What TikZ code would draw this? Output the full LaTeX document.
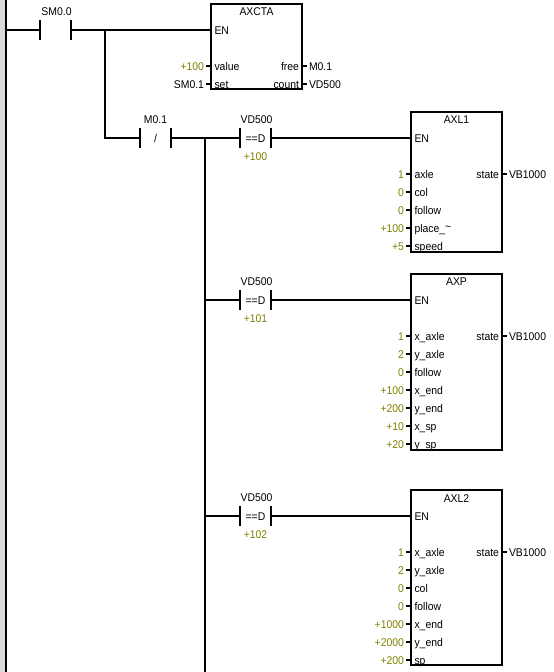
\documentclass[tikz,border=0pt]{standalone}
\usepackage{fontspec}
\setmainfont[FakeStretch=0.93]{Liberation Sans}
\usepackage{xcolor}
\usetikzlibrary{positioning}
\definecolor{valolive}{RGB}{128,128,0}

\begin{document}
\begin{tikzpicture}[x=1pt, y=-1pt,
    every node/.style={font=\fontsize{11.2}{13}\selectfont},
    wire/.style={line width=2pt, black},
    stub/.style={line width=2pt, black},
    contact/.style={minimum width=31pt, minimum height=20pt, inner sep=0pt, outer sep=0pt,
                    text height=10pt, text depth=2pt},
    bar/.style={line width=2pt, black},
    block/.style={rectangle, draw, line width=2pt, minimum width=91pt, inner sep=0pt, outer sep=0pt},
    pinname/.style={anchor=west, inner xsep=3.5pt, inner ysep=0pt, outer sep=0pt,
                    text height=10pt, text depth=2pt},
    outname/.style={anchor=east, inner xsep=3pt, inner ysep=0pt, outer sep=0pt,
                    text height=10pt, text depth=2pt},
    pinval/.style={inner xsep=2pt, inner ysep=0pt, outer sep=0pt, text=valolive,
                   text height=10pt, text depth=2pt},
    outval/.style={inner xsep=2pt, inner ysep=0pt, outer sep=0pt,
                   text height=10pt, text depth=2pt},
    addr/.style={inner sep=0pt}]

    \useasboundingbox (0,0) rectangle (554,672);

    % power rail
    \fill[gray!30] (0,0) rectangle (5,672);
    \coordinate (railtop) at (6,0);
    \coordinate (railbot) at (6,672);
    \draw[wire] (railtop) -- (railbot);

    % first rung
    \coordinate (r1) at (6,30);
    \node[contact] (sm00) at (55.5,30) {};
    \node[addr, above=4pt of sm00, xshift=1pt] (sm00a) {SM0.0};
    \draw[bar] (sm00.north west) -- (sm00.south west);
    \draw[bar] (sm00.north east) -- (sm00.south east);

    \node[block, minimum height=85pt] (axcta) at (256.5,46.5) {};
    \node[addr, below=3.5pt of axcta.north] (axctat) {AXCTA};
    \node[pinname] (axctaen) at (211,30) {EN};
    \coordinate (j1) at (105,30);
    \draw[wire] (r1) -- (sm00.west);
    \draw[wire] (sm00.east) -- (axctaen.west);

    \node[pinname] (p01) at (211,66) {value};
    \node[pinval, left=5pt of p01.west] (v01) {+100};
    \draw[stub] (v01.east) -- (p01.west);
    \node[pinname] (p02) at (211,84) {set};
    \node[outval, left=5pt of p02.west] (v02) {SM0.1};
    \draw[stub] (v02.east) -- (p02.west);
    \node[outname] (o01) at (302,66) {free};
    \node[outval, right=5pt of o01.east] (w01) {M0.1};
    \draw[stub] (o01.east) -- (w01.west);
    \node[outname] (o02) at (302,84) {count};
    \node[outval, right=5pt of o02.east] (w02) {VD500};
    \draw[stub] (o02.east) -- (w02.west);

    % second rung, M0.1 and the first compare
    \node[contact] (m01) at (155.5,138) {/};
    \node[addr, above=4pt of m01] (m01a) {M0.1};
    \draw[bar] (m01.north west) -- (m01.south west);
    \draw[bar] (m01.north east) -- (m01.south east);
    \draw[wire] (j1) |- (m01.west);

    \coordinate (j2) at (205,138);
    \coordinate (j2bot) at (205,672);
    \draw[wire] (j2) -- (j2bot);

    \node[contact] (cmp1) at (255.5,138) {==D};
    \node[addr, above=4pt of cmp1, xshift=1pt] (cmp1a) {VD500};
    \node[addr, below=4pt of cmp1, text=valolive] (cmp1b) {+100};
    \draw[bar] (cmp1.north west) -- (cmp1.south west);
    \draw[bar] (cmp1.north east) -- (cmp1.south east);
    \draw[wire] (m01.east) -- (cmp1.west);

    % AXL1
    \node[block, minimum height=140pt] (axl1) at (456.5,182) {};
    \node[addr, below=4pt of axl1.north] (axl1t) {AXL1};
    \node[pinname] (axl1en) at (411,138) {EN};
    \draw[wire] (cmp1.east) -- (axl1en.west);

    \node[pinname] (p11) at (411,174) {axle};
    \node[pinval, left=5pt of p11.west] (v11) {1};
    \draw[stub] (v11.east) -- (p11.west);
    \node[pinname] (p12) at (411,192) {col};
    \node[pinval, left=5pt of p12.west] (v12) {0};
    \draw[stub] (v12.east) -- (p12.west);
    \node[pinname] (p13) at (411,210) {follow};
    \node[pinval, left=5pt of p13.west] (v13) {0};
    \draw[stub] (v13.east) -- (p13.west);
    \node[pinname] (p14) at (411,228) {place\_\raisebox{2pt}{\textasciitilde}};
    \node[pinval, left=5pt of p14.west] (v14) {+100};
    \draw[stub] (v14.east) -- (p14.west);
    \node[pinname] (p15) at (411,246) {speed};
    \node[pinval, left=5pt of p15.west] (v15) {+5};
    \draw[stub] (v15.east) -- (p15.west);
    \node[outname] (o11) at (502,174) {state};
    \node[outval, right=5pt of o11.east] (w11) {VB1000};
    \draw[stub] (o11.east) -- (w11.west);

    % AXP
    \coordinate (j3) at (205,300);
    \node[contact] (cmp2) at (255.5,300) {==D};
    \node[addr, above=4pt of cmp2, xshift=1pt] (cmp2a) {VD500};
    \node[addr, below=4pt of cmp2, text=valolive] (cmp2b) {+101};
    \draw[bar] (cmp2.north west) -- (cmp2.south west);
    \draw[bar] (cmp2.north east) -- (cmp2.south east);
    \draw[wire] (j3) -- (cmp2.west);

    \node[block, minimum height=176pt] (axp) at (456.5,362) {};
    \node[addr, below=4pt of axp.north] (axpt) {AXP};
    \node[pinname] (axpen) at (411,300) {EN};
    \draw[wire] (cmp2.east) -- (axpen.west);

    \node[pinname] (p21) at (411,336) {x\_axle};
    \node[pinval, left=5pt of p21.west] (v21) {1};
    \draw[stub] (v21.east) -- (p21.west);
    \node[pinname] (p22) at (411,354) {y\_axle};
    \node[pinval, left=5pt of p22.west] (v22) {2};
    \draw[stub] (v22.east) -- (p22.west);
    \node[pinname] (p23) at (411,372) {follow};
    \node[pinval, left=5pt of p23.west] (v23) {0};
    \draw[stub] (v23.east) -- (p23.west);
    \node[pinname] (p24) at (411,390) {x\_end};
    \node[pinval, left=5pt of p24.west] (v24) {+100};
    \draw[stub] (v24.east) -- (p24.west);
    \node[pinname] (p25) at (411,408) {y\_end};
    \node[pinval, left=5pt of p25.west] (v25) {+200};
    \draw[stub] (v25.east) -- (p25.west);
    \node[pinname] (p26) at (411,426) {x\_sp};
    \node[pinval, left=5pt of p26.west] (v26) {+10};
    \draw[stub] (v26.east) -- (p26.west);
    \node[pinname] (p27) at (411,444) {y\_sp};
    \node[pinval, left=5pt of p27.west] (v27) {+20};
    \draw[stub] (v27.east) -- (p27.west);
    \node[outname] (o21) at (502,336) {state};
    \node[outval, right=5pt of o21.east] (w21) {VB1000};
    \draw[stub] (o21.east) -- (w21.west);

    % AXL2
    \coordinate (j4) at (205,516);
    \node[contact] (cmp3) at (255.5,516) {==D};
    \node[addr, above=4pt of cmp3, xshift=1pt] (cmp3a) {VD500};
    \node[addr, below=4pt of cmp3, text=valolive] (cmp3b) {+102};
    \draw[bar] (cmp3.north west) -- (cmp3.south west);
    \draw[bar] (cmp3.north east) -- (cmp3.south east);
    \draw[wire] (j4) -- (cmp3.west);

    \node[block, minimum height=175pt] (axl2) at (456.5,577.5) {};
    \node[addr, below=4pt of axl2.north] (axl2t) {AXL2};
    \node[pinname] (axl2en) at (411,516) {EN};
    \draw[wire] (cmp3.east) -- (axl2en.west);

    \node[pinname] (p31) at (411,552) {x\_axle};
    \node[pinval, left=5pt of p31.west] (v31) {1};
    \draw[stub] (v31.east) -- (p31.west);
    \node[pinname] (p32) at (411,570) {y\_axle};
    \node[pinval, left=5pt of p32.west] (v32) {2};
    \draw[stub] (v32.east) -- (p32.west);
    \node[pinname] (p33) at (411,588) {col};
    \node[pinval, left=5pt of p33.west] (v33) {0};
    \draw[stub] (v33.east) -- (p33.west);
    \node[pinname] (p34) at (411,606) {follow};
    \node[pinval, left=5pt of p34.west] (v34) {0};
    \draw[stub] (v34.east) -- (p34.west);
    \node[pinname] (p35) at (411,624) {x\_end};
    \node[pinval, left=5pt of p35.west] (v35) {+1000};
    \draw[stub] (v35.east) -- (p35.west);
    \node[pinname] (p36) at (411,642) {y\_end};
    \node[pinval, left=5pt of p36.west] (v36) {+2000};
    \draw[stub] (v36.east) -- (p36.west);
    \node[pinname] (p37) at (411,660) {sp};
    \node[pinval, left=5pt of p37.west] (v37) {+200};
    \draw[stub] (v37.east) -- (p37.west);
    \node[outname] (o31) at (502,552) {state};
    \node[outval, right=5pt of o31.east] (w31) {VB1000};
    \draw[stub] (o31.east) -- (w31.west);
\end{tikzpicture}
\end{document}
